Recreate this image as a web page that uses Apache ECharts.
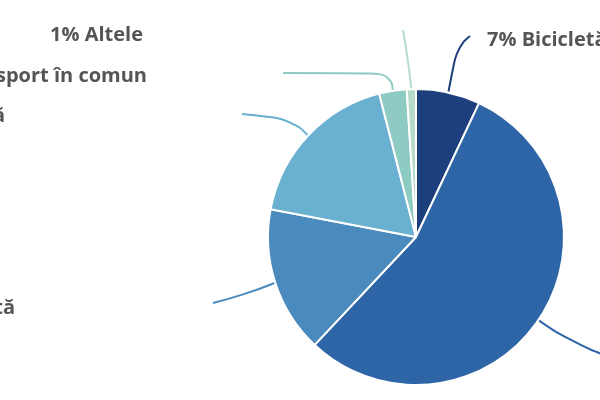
<!DOCTYPE html>
<html>
<head>
<meta charset="utf-8">
<script src="https://cdn.jsdelivr.net/npm/echarts@6/dist/echarts.min.js"></script>
<style>html,body{margin:0;padding:0;background:#fff}#c{width:600px;height:400px}</style>
</head>
<body>
<div id="c"></div>
<script>
const categories = ["Bicicletă", "Mașină personală", "Motocicletă", "Trotinetă", "Transport în comun", "Altele"];
const values = [7, 55, 16, 18, 3, 1];
const colors = ["#1d3f7e", "#2d65a6", "#4a8abd", "#6ab0d1", "#8ecbc2", "#b6dcc9"];

// label placement (layout only): label anchor, alignment, and line bend/end points
const labelPlaces = [
  {x: 487, y: 40, align: "left", bend: [457, 47], end: [470, 36]},
  {x: 640, y: 365, align: "left", bend: [570, 342], end: [630, 365]},
  {x: 15, y: 308, align: "right", bend: [245, 295], end: [213, 303]},
  {x: 5, y: 116, align: "right", bend: [292, 119], end: [242, 114]},
  {x: 147, y: 76, align: "right", bend: [391, 73], end: [283, 73]},
  {x: 143, y: 35, align: "right", bend: [408, 58], end: [403, 30]}
];

const chart = echarts.init(document.getElementById("c"));
chart.setOption({
  animation: false,
  color: colors,
  series: [{
    type: "pie",
    center: [416, 237],
    radius: 148,
    startAngle: 90,
    clockwise: true,
    itemStyle: {borderColor: "#fff", borderWidth: 2},
    data: categories.map((n, i) => ({name: n, value: values[i]})),
    label: {
      show: true,
      formatter: p => p.value + "% " + p.name,
      fontFamily: "Open Sans",
      fontWeight: "bold",
      fontSize: 20,
      color: "#555",
      overflow: "none",
      width: 400
    },
    labelLine: {show: true, smooth: 0.5, length: 20, length2: 20, lineStyle: {width: 2}},
    labelLayout: function (params) {
      const lp = labelPlaces[params.dataIndex];
      const s = params.labelLinePoints ? params.labelLinePoints[0] : lp.bend;
      return {
        x: lp.x,
        y: lp.y,
        align: lp.align,
        verticalAlign: "middle",
        labelLinePoints: [s, lp.bend, lp.end]
      };
    }
  }]
});
</script>
</body>
</html>
